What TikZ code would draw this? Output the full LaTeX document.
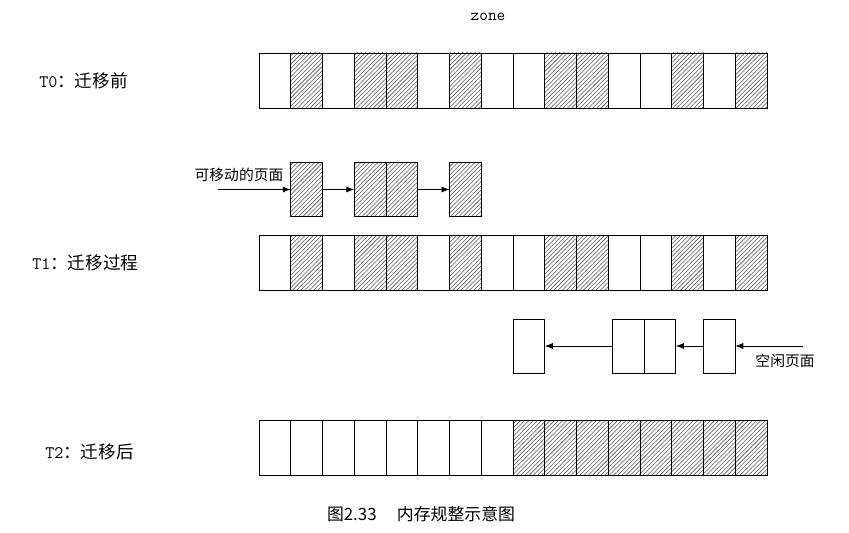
\documentclass[tikz,border=0pt]{standalone}
\usepackage{fontspec}
\newfontfamily\cjk{Noto Sans CJK SC}
\usetikzlibrary{arrows.meta,patterns}

\begin{document}
\begin{tikzpicture}[
  lbl/.style={font=\cjk\fontsize{12.5}{14}\selectfont, inner sep=0pt, anchor=west},
  slab/.style={font=\cjk\fontsize{10.5}{12}\selectfont, inner sep=0pt},
  cell/.style={draw, line width=0.6pt, minimum width=\cw cm, minimum height=1.375cm, inner sep=0pt, outer sep=0pt},
  hcell/.style={cell, pattern=north east lines, pattern color=black!65},
  pg/.style={minimum height=1.35cm},
  arr/.style={-{Latex[length=2mm,width=1.5mm]}, line width=0.6pt},
]
\def\xo{6.475}\def\cw{0.79375}
\def\ya{11.2875}\def\yb{6.725}\def\yc{2.1}\def\ym{8.5625}\def\yf{4.65}
\useasboundingbox (0,0) rectangle (21.225,13.3);

% ---------- zone ----------
\node[font=\ttfamily\fontsize{12}{14}\selectfont, inner sep=0pt] (zone) at (12.2,12.875) {zone};

% ---------- T0 / T1 rows ----------
\node[lbl] (t0) at (0.975,11.275) {\texttt{T0}：迁移前};
\node[lbl] (t1) at (0.8,6.725) {\texttt{T1}：迁移过程};
\foreach \i/\s in {1/cell,2/hcell,3/cell,4/hcell,5/hcell,6/cell,7/hcell,8/cell,
                   9/cell,10/hcell,11/hcell,12/cell,13/cell,14/hcell,15/cell,16/hcell}{
  \node[\s] (a\i) at ({\xo+(\i-0.5)*\cw},\ya) {};
  \node[\s] (b\i) at ({\xo+(\i-0.5)*\cw},\yb) {};
}

% ---------- movable pages ----------
\foreach \i in {2,4,5,7}{ \node[hcell, pg] (m\i) at ({\xo+(\i-0.5)*\cw},\ym) {}; }
\coordinate (min) at (5.45,\ym);
\node[slab] (mlab) at (5.975,8.925) {可移动的页面};
\draw[arr] (min) -- (m2.west);
\draw[arr] (m2.east) -- (m4.west);
\draw[arr] (m5.east) -- (m7.west);

% ---------- free pages ----------
\foreach \i/\dx in {9/0,12/0.1,13/0.1,15/0}{ \node[cell, pg] (f\i) at ({\xo+(\i-0.5)*\cw+\dx},\yf) {}; }
\coordinate (fin) at (20.075,\yf);
\node[slab] (flab) at (19.625,4.275) {空闲页面};
\draw[arr] (fin) -- (f15.east);
\draw[arr] (f15.west) -- (f13.east);
\draw[arr] (f12.west) -- (f9.east);

% ---------- T2 row ----------
\node[lbl] (t2) at (1.125,2.0) {\texttt{T2}：迁移后};
\foreach \i in {1,...,8}{ \node[cell] (c\i) at ({\xo+(\i-0.5)*\cw},\yc) {}; }
\foreach \i in {9,...,16}{ \node[hcell] (c\i) at ({\xo+(\i-0.5)*\cw},\yc) {}; }

% ---------- caption ----------
\node[font=\cjk\fontsize{12}{14}\selectfont, inner sep=0pt] (cap) at (10.525,0.45) {图2.33\hspace{1.2em}内存规整示意图};
\end{tikzpicture}
\end{document}
